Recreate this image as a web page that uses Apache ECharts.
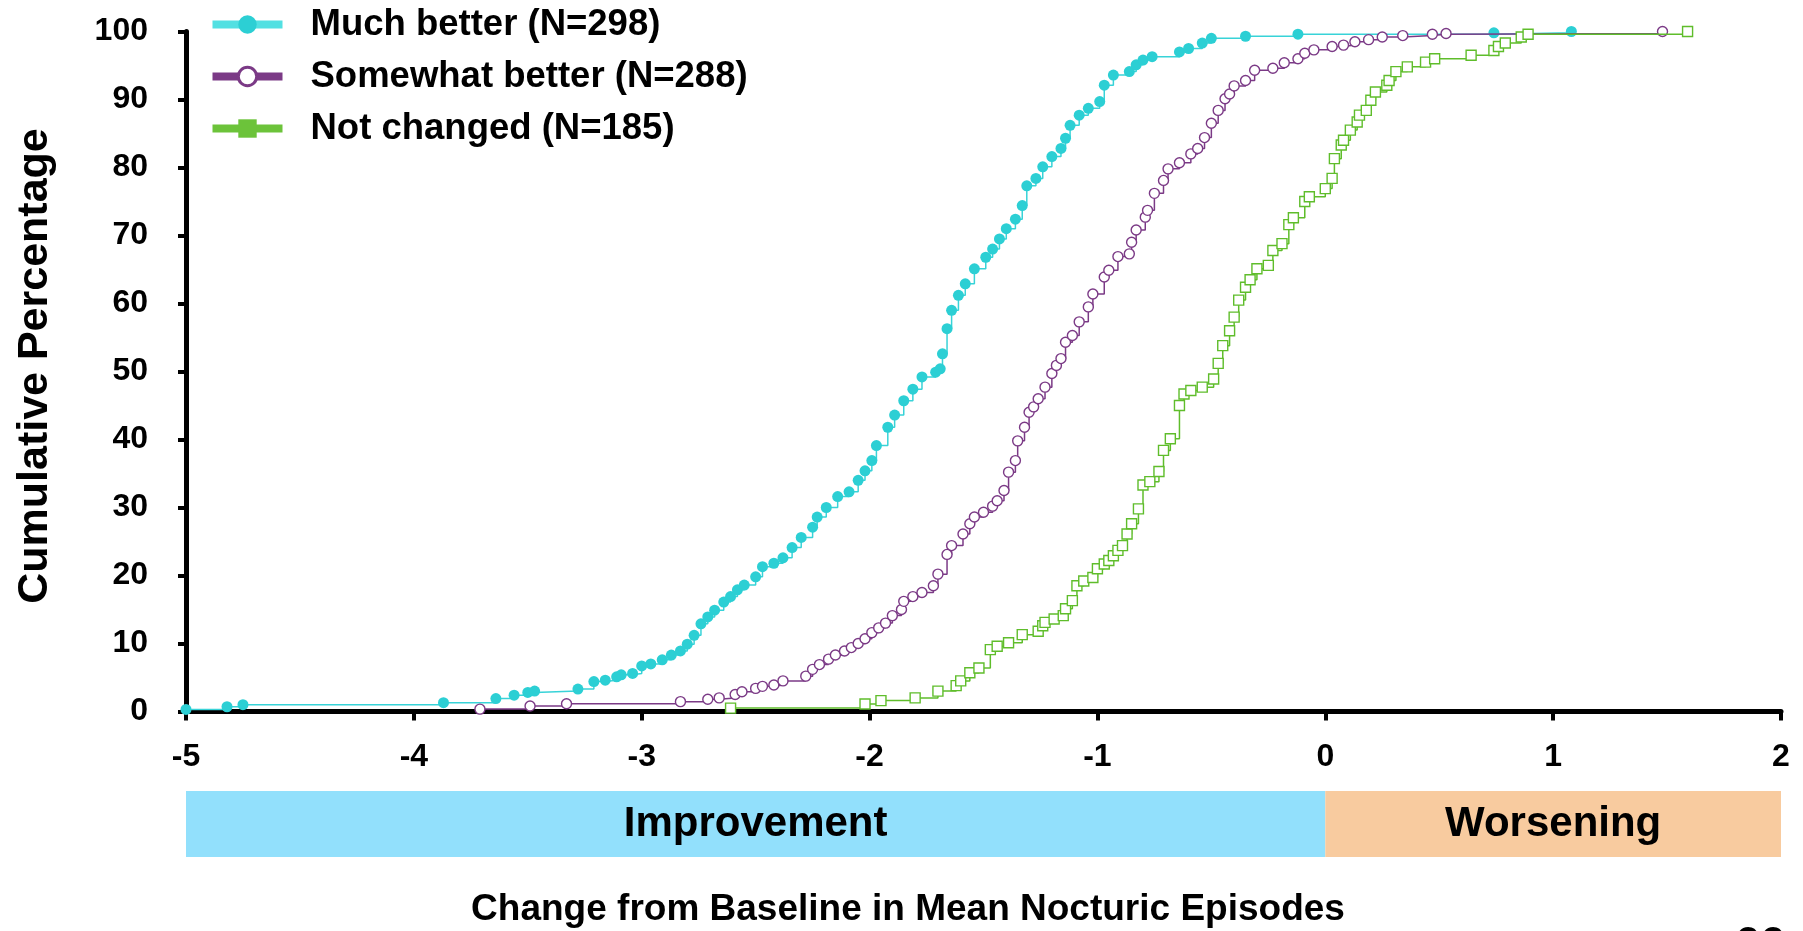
<!DOCTYPE html>
<html>
<head>
<meta charset="utf-8">
<title>Cumulative change in nocturic episodes</title>
<script src="https://cdn.jsdelivr.net/npm/echarts@6/dist/echarts.min.js"></script>
<style>
  html, body { margin: 0; padding: 0; background: #ffffff; }
  #chart { width: 1803px; height: 931px; }
</style>
</head>
<body>
<div id="chart"></div>
<script>
// ---- data -------------------------------------------------------------
const seriesNames = ['Much better (N=298)', 'Somewhat better (N=288)', 'Not changed (N=185)'];

// [change from baseline, cumulative %]
const muchBetter = [
  [-5.00, 0.3], [-4.82, 0.7], [-4.75, 1.0], [-3.87, 1.3], [-3.64, 1.9], [-3.56, 2.4],
  [-3.50, 2.8], [-3.47, 3.0], [-3.28, 3.3], [-3.21, 4.4], [-3.16, 4.6], [-3.11, 5.1],
  [-3.09, 5.4], [-3.04, 5.6], [-3.00, 6.7], [-2.96, 7.0], [-2.91, 7.6], [-2.87, 8.3],
  [-2.83, 8.9], [-2.80, 9.9], [-2.77, 11.2], [-2.74, 12.9], [-2.71, 13.9], [-2.68, 14.9],
  [-2.64, 16.1], [-2.61, 16.9], [-2.58, 17.9], [-2.55, 18.6], [-2.50, 19.8], [-2.47, 21.3],
  [-2.42, 21.8], [-2.38, 22.6], [-2.34, 24.1], [-2.30, 25.6], [-2.25, 27.1], [-2.23, 28.6],
  [-2.19, 30.0], [-2.14, 31.6], [-2.09, 32.3], [-2.05, 34.0], [-2.02, 35.4], [-1.99, 36.9],
  [-1.97, 39.1], [-1.92, 41.8], [-1.89, 43.6], [-1.85, 45.7], [-1.81, 47.4], [-1.77, 49.2],
  [-1.71, 49.9], [-1.69, 50.4], [-1.68, 52.6], [-1.66, 56.3], [-1.64, 59.0], [-1.61, 61.2],
  [-1.58, 62.9], [-1.54, 65.1], [-1.49, 66.8], [-1.46, 68.0], [-1.43, 69.5], [-1.40, 71.0],
  [-1.36, 72.4], [-1.33, 74.4], [-1.31, 77.3], [-1.27, 78.4], [-1.24, 80.1], [-1.20, 81.6],
  [-1.16, 82.8], [-1.14, 84.3], [-1.12, 86.2], [-1.08, 87.7], [-1.04, 88.7], [-0.99, 89.7],
  [-0.97, 92.1], [-0.93, 93.6], [-0.86, 94.1], [-0.83, 95.1], [-0.80, 95.8], [-0.76, 96.3],
  [-0.64, 97.0], [-0.60, 97.5], [-0.54, 98.3], [-0.50, 99.0], [-0.35, 99.3], [-0.12, 99.6],
  [0.74, 99.8], [1.08, 100]
];

const somewhatBetter = [
  [-3.71, 0.35], [-3.49, 0.8], [-3.33, 1.15], [-2.83, 1.45], [-2.71, 1.8], [-2.66, 2.0],
  [-2.59, 2.5], [-2.56, 2.9], [-2.50, 3.4], [-2.47, 3.7], [-2.42, 3.9], [-2.38, 4.5],
  [-2.28, 5.2], [-2.25, 6.2], [-2.22, 6.9], [-2.18, 7.7], [-2.15, 8.3], [-2.11, 8.9],
  [-2.08, 9.4], [-2.05, 10.0], [-2.02, 10.7], [-1.99, 11.6], [-1.96, 12.3], [-1.93, 13.0],
  [-1.90, 14.1], [-1.86, 15.0], [-1.85, 16.2], [-1.81, 16.9], [-1.77, 17.5], [-1.72, 18.5],
  [-1.70, 20.2], [-1.66, 23.1], [-1.64, 24.4], [-1.59, 26.1], [-1.56, 27.6], [-1.54, 28.6],
  [-1.50, 29.3], [-1.46, 30.2], [-1.44, 31.0], [-1.41, 32.5], [-1.39, 35.2], [-1.36, 36.9],
  [-1.35, 39.8], [-1.32, 41.8], [-1.30, 44.0], [-1.28, 44.8], [-1.26, 46.0], [-1.23, 47.7],
  [-1.20, 49.7], [-1.18, 50.9], [-1.16, 51.9], [-1.14, 54.3], [-1.11, 55.3], [-1.08, 57.3],
  [-1.04, 59.5], [-1.02, 61.4], [-0.97, 63.9], [-0.95, 64.9], [-0.91, 66.9], [-0.86, 67.3],
  [-0.85, 69.0], [-0.83, 70.8], [-0.79, 72.7], [-0.78, 73.7], [-0.75, 76.2], [-0.71, 78.1],
  [-0.69, 79.8], [-0.64, 80.7], [-0.59, 82.0], [-0.56, 82.8], [-0.53, 84.4], [-0.50, 86.5],
  [-0.47, 88.4], [-0.44, 90.1], [-0.42, 90.8], [-0.40, 92.0], [-0.35, 92.8], [-0.31, 94.3],
  [-0.23, 94.6], [-0.18, 95.4], [-0.12, 96.0], [-0.09, 96.8], [-0.05, 97.3], [0.03, 97.8],
  [0.08, 98.0], [0.13, 98.5], [0.19, 98.8], [0.25, 99.2], [0.34, 99.4], [0.47, 99.6],
  [0.53, 99.7], [1.48, 100]
];

const notChanged = [
  [-2.61, 0.5], [-2.02, 1.1], [-1.95, 1.6], [-1.80, 2.0], [-1.70, 3.0], [-1.62, 3.8],
  [-1.60, 4.5], [-1.56, 5.7], [-1.52, 6.4], [-1.47, 9.1], [-1.44, 9.6], [-1.39, 10.1],
  [-1.33, 11.3], [-1.26, 11.8], [-1.24, 12.6], [-1.23, 13.1], [-1.19, 13.6], [-1.15, 14.1],
  [-1.14, 15.1], [-1.11, 16.3], [-1.09, 18.5], [-1.06, 19.2], [-1.02, 19.7], [-1.00, 21.0],
  [-0.97, 21.7], [-0.95, 22.2], [-0.93, 22.9], [-0.91, 23.7], [-0.89, 24.4], [-0.87, 26.1],
  [-0.85, 27.6], [-0.82, 29.8], [-0.80, 33.3], [-0.77, 33.8], [-0.73, 35.3], [-0.71, 38.4],
  [-0.68, 40.1], [-0.64, 45.0], [-0.62, 46.7], [-0.59, 47.2], [-0.54, 47.7], [-0.49, 48.9],
  [-0.47, 51.2], [-0.45, 53.8], [-0.42, 56.0], [-0.40, 58.0], [-0.38, 60.5], [-0.35, 62.4],
  [-0.33, 63.5], [-0.30, 65.1], [-0.25, 65.6], [-0.23, 67.8], [-0.19, 68.8], [-0.16, 71.6],
  [-0.14, 72.6], [-0.09, 75.0], [-0.07, 75.7], [0.00, 76.9], [0.03, 78.4], [0.04, 81.3],
  [0.07, 83.3], [0.08, 84.0], [0.11, 85.5], [0.14, 86.7], [0.15, 87.7], [0.18, 88.4],
  [0.20, 89.9], [0.22, 91.1], [0.27, 92.1], [0.28, 92.8], [0.31, 94.1], [0.36, 94.8],
  [0.44, 95.5], [0.48, 96.0], [0.64, 96.5], [0.74, 97.2], [0.76, 97.8], [0.79, 98.3],
  [0.86, 99.2], [0.89, 99.6], [1.59, 100]
];

// axis ranges and tick steps
const xTickValues = [-5, -4, -3, -2, -1, 0, 1, 2];
const yTickValues = [0, 10, 20, 30, 40, 50, 60, 70, 80, 90, 100];

// direction bands under the axis
const bandNames = ['Improvement', 'Worsening'];
const bandEdges = [-5, 0, 2];

// ---- drawing ----------------------------------------------------------
const FONT = '"Liberation Sans", Arial, Helvetica, sans-serif';
const bandColors = ['#92e0fc', '#f8cb9f'];
const PLOT_LEFT = 186, PLOT_RIGHT = 22;

const chart = echarts.init(document.getElementById('chart'), null, { renderer: 'canvas' });

const axisText = { fontFamily: FONT, fontSize: 32, fontWeight: 'bold', color: '#000' };

function stepLine(name, data, opts) {
  return {
    name: name,
    type: 'line',
    step: 'end',
    data: data,
    xAxisIndex: 0,
    yAxisIndex: 0,
    symbol: opts.symbol,
    symbolSize: opts.symbolSize,
    itemStyle: opts.itemStyle,
    lineStyle: { color: opts.lineColor, width: 1.5 },
    emphasis: { disabled: true },
    z: opts.z
  };
}

const option = {
  animation: false,
  backgroundColor: '#ffffff',
  grid: [
    { left: PLOT_LEFT, right: PLOT_RIGHT, top: 31.5, bottom: 219.5, containLabel: false },
    { left: PLOT_LEFT, right: PLOT_RIGHT, top: 791, height: 66, containLabel: false }
  ],
  xAxis: [
    {
      type: 'value', gridIndex: 0,
      min: xTickValues[0], max: xTickValues[xTickValues.length - 1],
      interval: xTickValues[1] - xTickValues[0],
      axisLine: { show: true, onZero: false, lineStyle: { color: '#000', width: 5 } },
      axisTick: { show: true, length: 9, lineStyle: { color: '#000', width: 4 } },
      axisLabel: Object.assign({ margin: 30 }, axisText),
      splitLine: { show: false }
    },
    { type: 'value', gridIndex: 1, min: bandEdges[0], max: bandEdges[bandEdges.length - 1], show: false }
  ],
  yAxis: [
    {
      type: 'value', gridIndex: 0,
      min: yTickValues[0], max: yTickValues[yTickValues.length - 1],
      interval: yTickValues[1] - yTickValues[0],
      axisLine: { show: true, onZero: false, lineStyle: { color: '#000', width: 5 } },
      axisTick: { show: true, length: 8, lineStyle: { color: '#000', width: 4 } },
      axisLabel: Object.assign({ margin: 38 }, axisText),
      splitLine: { show: false }
    },
    { type: 'value', gridIndex: 1, min: 0, max: 1, show: false }
  ],
  legend: {
    orient: 'vertical',
    left: 208.5,
    top: 6,
    padding: 0,
    itemWidth: 70,
    itemHeight: 23,
    itemGap: 15,
    selectedMode: false,
    textStyle: {
      fontFamily: FONT, fontSize: 36.5, fontWeight: 'bold', color: '#000',
      lineHeight: 36.5, padding: [0, 0, 0, 23]
    },
    data: [
      { name: seriesNames[0], itemStyle: { color: '#2ccfd4', borderWidth: 0 }, lineStyle: { color: '#52e0e2', width: 8 } },
      { name: seriesNames[1], itemStyle: { color: '#ffffff', borderColor: '#7b3a86', borderWidth: 3 }, lineStyle: { color: '#7b3a86', width: 8 } },
      { name: seriesNames[2], itemStyle: { color: '#6cc33a', borderWidth: 0 }, lineStyle: { color: '#6cc33a', width: 8 } }
    ]
  },
  graphic: [
    {
      type: 'text', x: 35, y: 366, rotation: Math.PI / 2,
      style: { text: 'Cumulative Percentage', font: 'bold 43px ' + FONT, fill: '#000', align: 'center', verticalAlign: 'middle' }
    },
    {
      type: 'text', x: 908, y: 910,
      style: { text: 'Change from Baseline in Mean Nocturic Episodes', font: 'bold 37px ' + FONT, fill: '#000', align: 'center', verticalAlign: 'middle' }
    },
    {
      type: 'text', x: 1735, y: 923,
      style: { text: '66', font: 'bold 45px ' + FONT, fill: '#000', align: 'left', verticalAlign: 'top' }
    }
  ],
  series: [
    {
      type: 'custom',
      xAxisIndex: 1, yAxisIndex: 1,
      silent: true,
      data: bandNames.map((n, i) => [bandEdges[i], bandEdges[i + 1]]),
      renderItem: function (params, api) {
        const p0 = api.coord([api.value(0), 1]);
        const p1 = api.coord([api.value(1), 0]);
        const w = p1[0] - p0[0], h = p1[1] - p0[1];
        return {
          type: 'group',
          children: [
            { type: 'rect', shape: { x: p0[0], y: p0[1], width: w, height: h }, style: { fill: bandColors[params.dataIndex] } },
            { type: 'text', x: p0[0] + w / 2, y: p0[1] + h / 2,
              style: { text: bandNames[params.dataIndex], font: 'bold 42px ' + FONT, fill: '#000', align: 'center', verticalAlign: 'middle' } }
          ]
        };
      }
    },
    stepLine(seriesNames[0], muchBetter, {
      symbol: 'circle', symbolSize: 11, lineColor: '#38d3d8',
      itemStyle: { color: '#2ccfd4' }, z: 3
    }),
    stepLine(seriesNames[1], somewhatBetter, {
      symbol: 'circle', symbolSize: 10, lineColor: '#7b3a86',
      itemStyle: { color: '#ffffff', borderColor: '#7b3a86', borderWidth: 1.4 }, z: 4
    }),
    stepLine(seriesNames[2], notChanged, {
      symbol: 'rect', symbolSize: 10, lineColor: '#5fbd2b',
      itemStyle: { color: '#ffffff', borderColor: '#5fbd2b', borderWidth: 1.4 }, z: 5
    })
  ]
};

chart.setOption(option);
</script>
</body>
</html>
